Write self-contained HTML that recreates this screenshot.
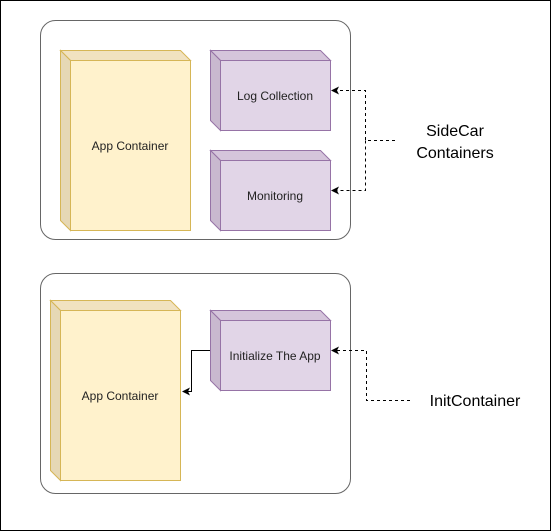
<!DOCTYPE html>
<html><head><style>body{margin:0;overflow:hidden}svg{display:block}</style></head><body>
<svg width="551" height="531" xmlns="http://www.w3.org/2000/svg" font-family="Liberation Sans, sans-serif">
<rect x="0.5" y="0.5" width="550" height="530" fill="#fff" stroke="#000"/>
<defs><marker id="a" markerWidth="8" markerHeight="8" refX="7" refY="4" orient="auto" markerUnits="userSpaceOnUse"><path d="M0,0 L8,4 L0,8 L2,4z" fill="#000"/></marker></defs>
<rect x="40.5" y="20.5" width="310" height="219" rx="15" fill="#fff" stroke="#666"/>
<rect x="40.5" y="273.5" width="310" height="220" rx="15" fill="#fff" stroke="#666"/>
<g stroke="#d6b656">
<path d="M60.5,50.5 L180.5,50.5 L190.5,60.5 L70.5,60.5z" fill="#f1e2c0"/>
<path d="M60.5,50.5 L70.5,60.5 L70.5,230.5 L60.5,220.5z" fill="#e6d8b5"/>
<rect x="70.5" y="60.5" width="120" height="170" fill="#fff2cc"/>
<path d="M50.5,300.5 L170.5,300.5 L180.5,310.5 L60.5,310.5z" fill="#f1e2c0"/>
<path d="M50.5,300.5 L60.5,310.5 L60.5,480.5 L50.5,470.5z" fill="#e6d8b5"/>
<rect x="60.5" y="310.5" width="120" height="170" fill="#fff2cc"/>
</g>
<g stroke="#9673a6">
<path d="M210.5,50.5 L320.5,50.5 L330.5,60.5 L220.5,60.5z" fill="#d5c5db"/>
<path d="M210.5,50.5 L220.5,60.5 L220.5,130.5 L210.5,120.5z" fill="#c9b9cf"/>
<rect x="220.5" y="60.5" width="110" height="70" fill="#e1d5e7"/>
<path d="M210.5,150.5 L320.5,150.5 L330.5,160.5 L220.5,160.5z" fill="#d5c5db"/>
<path d="M210.5,150.5 L220.5,160.5 L220.5,230.5 L210.5,220.5z" fill="#c9b9cf"/>
<rect x="220.5" y="160.5" width="110" height="70" fill="#e1d5e7"/>
<path d="M210.5,310.5 L320.5,310.5 L330.5,320.5 L220.5,320.5z" fill="#d5c5db"/>
<path d="M210.5,310.5 L220.5,320.5 L220.5,390.5 L210.5,380.5z" fill="#c9b9cf"/>
<rect x="220.5" y="320.5" width="110" height="70" fill="#e1d5e7"/>
</g>
<g font-size="12" fill="#222" text-anchor="middle">
<text x="130" y="150">App Container</text>
<text x="120" y="400">App Container</text>
<text x="275" y="100">Log Collection</text>
<text x="275" y="200">Monitoring</text>
<text x="275" y="360">Initialize The App</text>
</g>
<g font-size="16" fill="#000" text-anchor="middle">
<text x="455" y="136">SideCar</text>
<text x="455" y="158">Containers</text>
<text x="475" y="406">InitContainer</text>
</g>
<g fill="none" stroke="#000">
<path d="M210,350.5 H191.5 V391.5 H183" marker-end="url(#a)"/>
<g stroke-dasharray="3,3">
<path d="M395,140.5 H365.5 V90.5 H332" marker-end="url(#a)"/>
<path d="M365.5,140.5 V190.5 H332" marker-end="url(#a)"/>
<path d="M410,400.5 H366.5 V350.5 H332" marker-end="url(#a)"/>
</g></g>
</svg>
</body></html>
